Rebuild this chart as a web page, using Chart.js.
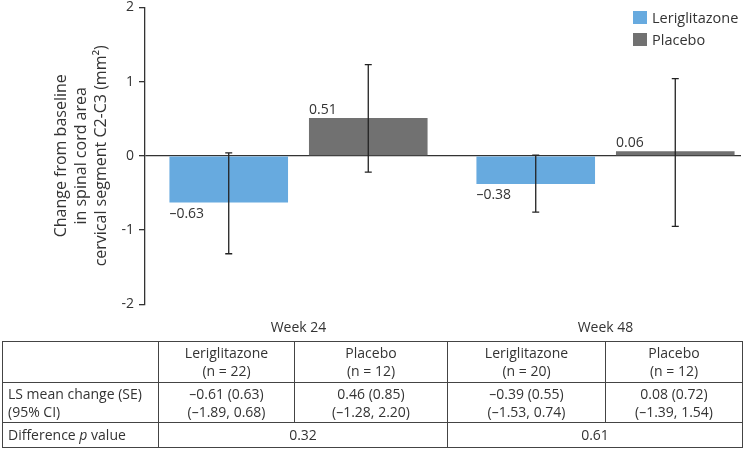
<!DOCTYPE html>
<html lang="en">
<head>
    <meta charset="UTF-8">
    <title>Leriglitazone vs Placebo - cervical cord area</title>
    <script src="https://cdn.jsdelivr.net/npm/chart.js"></script>
    <style>
        body { margin: 0; width: 744px; height: 450px; overflow: hidden; background: #fff; font-family: "Open Sans", sans-serif; color: #333; }
        #chartBox { position: absolute; left: 0; top: -6px; width: 741px; height: 349px; overflow: hidden; }
        #chartInner { position: relative; width: 762px; height: 349px; }
        #legend { position: absolute; left: 633px; top: 6px; font-size: 14.5px; }
        #legend div { display: flex; align-items: center; height: 22px; }
        #legend span.box { display: inline-block; width: 14px; height: 13px; margin-right: 5px; }
        table { position: absolute; left: 2px; top: 341px; width: 740px; table-layout: fixed; border-collapse: collapse; font-size: 14px; color: #333; }
        td { border: 1px solid #444; text-align: center; padding: 0 5px; line-height: 18px; }
        td.lbl { text-align: left; }
    </style>
</head>
<body>
    <div id="chartBox">
        <div id="chartInner"><canvas id="barChart"></canvas></div>
    </div>
    <div id="legend"></div>

    <!-- summary table under the bars -->
    <table>
        <colgroup>
            <col style="width: 156px;">
            <col style="width: 136px;">
            <col style="width: 153px;">
            <col style="width: 158px;">
            <col style="width: 137px;">
        </colgroup>
        <tr style="height: 41px;">
            <td></td>
            <td>Leriglitazone<br>(n = 22)</td>
            <td>Placebo<br>(n = 12)</td>
            <td>Leriglitazone<br>(n = 20)</td>
            <td>Placebo<br>(n = 12)</td>
        </tr>
        <tr style="height: 40px;">
            <td class="lbl">LS mean change (SE)<br>(95% CI)</td>
            <td>–0.61 (0.63)<br>(–1.89, 0.68)</td>
            <td>0.46 (0.85)<br>(–1.28, 2.20)</td>
            <td>–0.39 (0.55)<br>(–1.53, 0.74)</td>
            <td>0.08 (0.72)<br>(–1.39, 1.54)</td>
        </tr>
        <tr style="height: 25px;">
            <td class="lbl">Difference <i>p</i> value</td>
            <td colspan="2">0.32</td>
            <td colspan="2">0.61</td>
        </tr>
    </table>

    <script>
        // data
        const categories = ['Week 24', 'Week 48'];
        const leriMeans = [-0.63, -0.38];
        const leriLow = [-1.32, -0.76];
        const leriHigh = [0.04, 0.01];
        const placeboMeans = [0.51, 0.06];
        const placeboLow = [-0.22, -0.95];
        const placeboHigh = [1.23, 1.04];
        const yTicks = [-2, -1, 0, 1, 2];

        const blue = '#67aadf';
        const grey = '#717171';
        const ink = '#333';

        function fmt(v) {
            return v < 0 ? '\u2013' + Math.abs(v).toFixed(2) : v.toFixed(2);
        }

        // error bars + value labels
        const extras = {
            id: 'extras',
            afterDatasetsDraw(chart) {
                const ctx = chart.ctx;
                const y = chart.scales.y;
                chart.data.datasets.forEach((ds, i) => {
                    const meta = chart.getDatasetMeta(i);
                    meta.data.forEach((bar, j) => {
                        const top = y.getPixelForValue(ds.hi[j]);
                        const bot = y.getPixelForValue(ds.lo[j]);
                        ctx.save();
                        ctx.strokeStyle = '#222';
                        ctx.lineWidth = 1.3;
                        ctx.beginPath();
                        ctx.moveTo(bar.x, top); ctx.lineTo(bar.x, bot);
                        ctx.moveTo(bar.x - 3.5, top); ctx.lineTo(bar.x + 3.5, top);
                        ctx.moveTo(bar.x - 3.5, bot); ctx.lineTo(bar.x + 3.5, bot);
                        ctx.stroke();

                        const v = ds.data[j];
                        ctx.fillStyle = ink;
                        ctx.font = '14px "Open Sans"';
                        ctx.textAlign = 'left';
                        const left = bar.x - bar.width / 2;
                        if (v < 0) {
                            ctx.textBaseline = 'top';
                            ctx.fillText(fmt(v), left, bar.y + 4);
                        } else {
                            ctx.textBaseline = 'bottom';
                            ctx.fillText(fmt(v), left, bar.y - 1);
                        }
                        ctx.restore();
                    });
                });
            }
        };

        const chart = new Chart(document.getElementById('barChart'), {
            type: 'bar',
            data: {
                labels: categories,
                datasets: [
                    { label: 'Leriglitazone', data: leriMeans, lo: leriLow, hi: leriHigh, backgroundColor: blue },
                    { label: 'Placebo', data: placeboMeans, lo: placeboLow, hi: placeboHigh, backgroundColor: grey }
                ]
            },
            options: {
                responsive: true,
                maintainAspectRatio: false,
                animation: false,
                categoryPercentage: 0.909,
                barPercentage: 0.85,
                layout: { padding: { left: 0, right: 3, top: 0, bottom: 0 } },
                plugins: { legend: { display: false }, tooltip: { enabled: false } },
                scales: {
                    x: {
                        grid: { display: false },
                        border: { display: false },
                        ticks: { color: ink, font: { family: 'Open Sans', size: 14 }, padding: 7 }
                    },
                    y: {
                        min: -2,
                        max: 2,
                        afterBuildTicks: s => { s.ticks = yTicks.map(v => ({ value: v })); },
                        afterFit: s => { s.width = 145; },
                        grid: {
                            color: c => c.tick && c.tick.value === 0 ? ink : 'transparent',
                            tickColor: ink,
                            tickLength: 6,
                            lineWidth: 1.3
                        },
                        border: { display: true, color: ink, width: 1.3 },
                        ticks: { color: ink, font: { family: 'Open Sans', size: 14 }, padding: 5 },
                        title: {
                            display: true,
                            text: ['Change from baseline', 'in spinal cord area', 'cervical segment C2-C3 (mm\u00b2)'],
                            color: ink,
                            font: { family: 'Open Sans', size: 16, lineHeight: 1.25 },
                            padding: { top: 51, bottom: 0 }
                        }
                    }
                }
            },
            plugins: [extras]
        });

        // legend in html, from the datasets
        const legend = document.getElementById('legend');
        chart.data.datasets.forEach(ds => {
            const row = document.createElement('div');
            row.innerHTML = '<span class="box" style="background:' + ds.backgroundColor + '"></span>' + ds.label;
            legend.appendChild(row);
        });
    </script>
</body>
</html>
